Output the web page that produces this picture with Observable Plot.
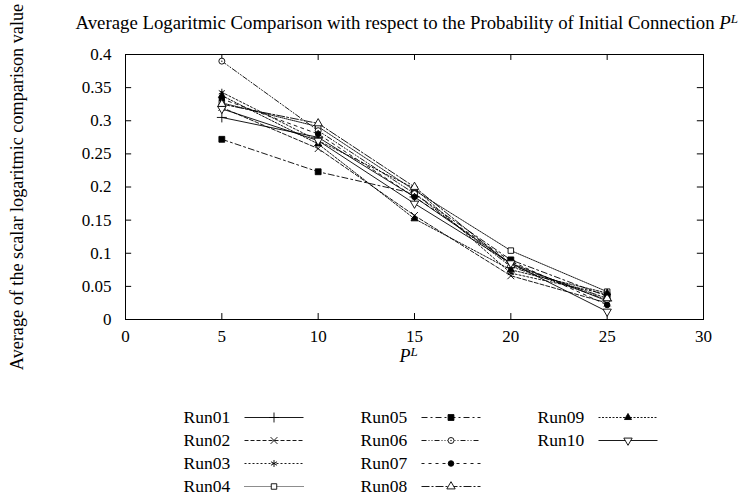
<!DOCTYPE html>
<html>
<head>
<meta charset="utf-8">
<script src="https://cdn.jsdelivr.net/npm/d3@7"></script>
<script src="https://cdn.jsdelivr.net/npm/@observablehq/plot@0.6"></script>
<style>
  body { margin: 0; background: #fff; }
  #chart svg { display: block; }
</style>
</head>
<body>
<div id="chart"></div>
<script>
// ---- data ----
const xValues = [5, 10, 15, 20, 25];
const runNames = ["Run01","Run02","Run03","Run04","Run05","Run06","Run07","Run08","Run09","Run10"];
const run01 = [0.305, 0.275, 0.185, 0.085, 0.028];
const run02 = [0.320, 0.258, 0.157, 0.066, 0.025];
const run03 = [0.343, 0.270, 0.198, 0.070, 0.038];
const run04 = [0.327, 0.291, 0.195, 0.104, 0.042];
const run05 = [0.272, 0.223, 0.190, 0.090, 0.035];
const run06 = [0.390, 0.285, 0.190, 0.080, 0.030];
const run07 = [0.333, 0.280, 0.185, 0.088, 0.022];
const run08 = [0.325, 0.296, 0.200, 0.082, 0.032];
const run09 = [0.338, 0.265, 0.152, 0.075, 0.040];
const run10 = [0.318, 0.270, 0.175, 0.085, 0.012];
const runValues = [run01, run02, run03, run04, run05, run06, run07, run08, run09, run10];
const xTicks = [0, 5, 10, 15, 20, 25, 30];
const yTicks = [0, 0.05, 0.1, 0.15, 0.2, 0.25, 0.3, 0.35, 0.4];
const yTickLabels = ["0", "0.05", "0.1", "0.15", "0.2", "0.25", "0.3", "0.35", "0.4"];
const titleText = "Average Logaritmic Comparison with respect to the Probability of Initial Connection ";
const yLabelText = "Average of the scalar logaritmic comparison value";

// ---- styles ----
const triangleDown = {
  draw(ctx, size) {
    const y = -Math.sqrt(size / (Math.sqrt(3) * 3));
    ctx.moveTo(0, -2 * y);
    ctx.lineTo(-Math.sqrt(3) * y, y);
    ctx.lineTo(Math.sqrt(3) * y, y);
    ctx.closePath();
  }
};
const styles = [
  {dash: null,            symbol: "plus",     fill: "none",  r: 3.3},
  {dash: "4,2",           symbol: "times",    fill: "none",  r: 3.2},
  {dash: "2,2",           symbol: "asterisk", fill: "none",  r: 3.3},
  {dash: "1,1",           symbol: "square",   fill: "white", r: 3.1},
  {dash: "6,3,2,3",       symbol: "square",   fill: "black", r: 3.3},
  {dash: "5,2,1,2,1,2",   symbol: "circle",   fill: "white", r: 3.0},
  {dash: "3,4",           symbol: "circle",   fill: "black", r: 2.8},
  {dash: "8,2,2,2",       symbol: "triangle", fill: "white", r: 3.1},
  {dash: "2,1.5",         symbol: "triangle", fill: "black", r: 2.6},
  {dash: null,            symbol: triangleDown, fill: "white", r: 3.1}
];

const rows = [];
runNames.forEach((name, i) => {
  xValues.forEach((x, j) => rows.push({run: name, idx: i, x, y: runValues[i][j]}));
});

const font = "Liberation Serif, Times New Roman, serif";

const lineMarks = [];
const dotMarks = [];
runNames.forEach((name, i) => {
  const s = styles[i];
  const d = rows.filter(r => r.idx === i);
  lineMarks.push(Plot.line(d, {x: "x", y: "y", stroke: "black", strokeWidth: 0.9, strokeDasharray: s.dash || undefined}));
  dotMarks.push(Plot.dot(d, {x: "x", y: "y", symbol: () => s.symbol, r: s.r, fill: s.fill, stroke: "black", strokeWidth: 0.9}));
  if (i === 5) dotMarks.push(Plot.dot(d, {x: "x", y: "y", r: 0.7, fill: "black"}));
});

const main = Plot.plot({
  width: 741,
  height: 375,
  marginLeft: 125,
  marginRight: 38,
  marginTop: 54,
  marginBottom: 56,
  style: {fontFamily: font, fontSize: "17px", color: "black", background: "white"},
  x: {domain: [0, 30], ticks: xTicks, tickSize: 0, tickPadding: 10, label: null, tickFormat: d => String(d)},
  y: {domain: [0, 0.4], ticks: yTicks, tickSize: 0, tickPadding: 14, label: null, tickFormat: d => yTickLabels[yTicks.indexOf(d)]},
  symbol: {type: "identity"},
  marks: [
    Plot.frame({stroke: "black", strokeWidth: 1}),
    Plot.ruleY(yTicks.slice(1, -1), {y: d => d, x1: 0, x2: 0.32, stroke: "black"}),
    Plot.ruleY(yTicks.slice(1, -1), {y: d => d, x1: 29.68, x2: 30, stroke: "black"}),
    Plot.ruleX(xTicks.slice(1, -1), {x: d => d, y1: 0, y2: 0.009, stroke: "black"}),
    Plot.ruleX(xTicks.slice(1, -1), {x: d => d, y1: 0.391, y2: 0.4, stroke: "black"}),
    ...lineMarks,
    ...dotMarks,
    Plot.text([titleText], {frameAnchor: "top-left", dx: -50, dy: -32, textAnchor: "start", lineAnchor: "middle", fontSize: 18.8, className: "title-pl"}),
    Plot.text([yLabelText], {frameAnchor: "left", dx: -108, rotate: -90, textAnchor: "middle", lineAnchor: "middle", fontSize: 18.2}),
    Plot.text(["P"], {frameAnchor: "bottom", dx: -6, dy: 37, textAnchor: "middle", lineAnchor: "middle", fontSize: 18, className: "x-pl"})
  ]
});

// legend
const legendCols = [183, 360, 537];
const legendRows = runNames.map((name, i) => ({name, i, col: Math.floor(i / 4), row: i % 4}));
legendRows.forEach(d => {
  d.tx = legendCols[d.col];
  d.x1 = d.tx + 61;
  d.x2 = d.tx + 120;
  d.xm = (d.x1 + d.x2) / 2;
});
const legendMarks = [
  Plot.text(legendRows, {x: "tx", y: "row", text: "name", textAnchor: "start", fontSize: 17.5})
];
legendRows.forEach(d => {
  const s = styles[d.i];
  legendMarks.push(Plot.link([d], {x1: "x1", x2: "x2", y1: "row", y2: "row", stroke: "black", strokeWidth: 0.9,
    strokeDasharray: s.dash || undefined}));
  legendMarks.push(Plot.dot([d], {x: "xm", y: "row", symbol: () => s.symbol, r: s.r, fill: s.fill, stroke: "black", strokeWidth: 0.9}));
  if (d.i === 5) legendMarks.push(Plot.dot([d], {x: "xm", y: "row", r: 0.7, fill: "black"}));
});
const legend = Plot.plot({
  width: 741,
  height: 123,
  margin: 0,
  style: {fontFamily: font, fontSize: "17px", color: "black", background: "white"},
  x: {domain: [0, 741], range: [0, 741], axis: null},
  y: {domain: [0, 3], range: [42, 111], axis: null},
  symbol: {type: "identity"},
  marks: legendMarks
});

const chart = document.getElementById("chart");
chart.appendChild(main);
chart.appendChild(legend);

// rich text: italic P with superscript L
function addPL(sel, size) {
  sel.each(function() {
    const t = d3.select(this);
    const txt = t.text();
    const base = txt === "P" ? "" : txt;
    t.text(null);
    if (base) t.append("tspan").text(base);
    t.append("tspan").attr("font-style", "italic").text("P");
    t.append("tspan").attr("font-style", "italic").attr("font-size", size).attr("dy", "-0.45em").text("L");
  });
}
addPL(d3.select(main).selectAll(".title-pl text"), 13);
addPL(d3.select(main).selectAll(".x-pl text"), 13);
</script>
</body>
</html>
